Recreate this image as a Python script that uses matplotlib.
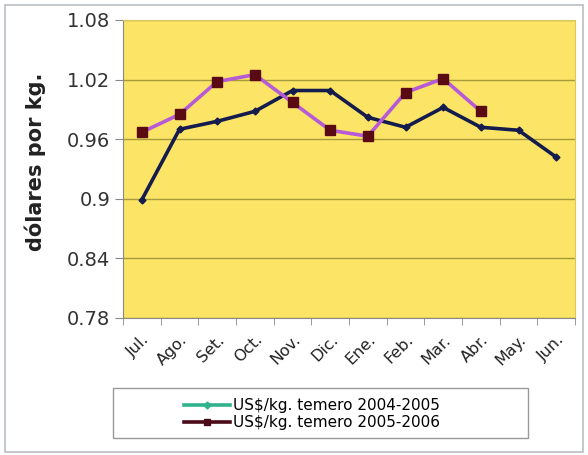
import matplotlib
matplotlib.use("Agg")
import matplotlib.pyplot as plt
from matplotlib.lines import Line2D
from matplotlib.patches import Rectangle
from matplotlib.transforms import ScaledTranslation

plt.rcParams['font.family'] = ['DejaVu Sans']

months = ["Jul.", "Ago.", "Set.", "Oct.", "Nov.", "Dic.", "Ene.", "Feb.",
          "Mar.", "Abr.", "May.", "Jun."]
precio_2004_2005 = [0.899, 0.970, 0.978, 0.988, 1.009, 1.009, 0.982, 0.972,
                    0.992, 0.972, 0.969, 0.942]
precio_2005_2006 = [0.967, 0.985, 1.018, 1.025, 0.997, 0.969, 0.963, 1.007,
                    1.021, 0.988]
y_ticks = [0.78, 0.84, 0.9, 0.96, 1.02, 1.08]
y_tick_labels = ["0.78", "0.84", "0.9", "0.96", "1.02", "1.08"]
series_labels = ["US$/kg. temero 2004-2005", "US$/kg. temero 2005-2006"]

W, H = 588, 455
fig = plt.figure(figsize=(W / 100, H / 100), dpi=100)
fig.patch.set_facecolor("white")
fig.patches.append(Rectangle((0.008, 0.006), 0.984, 0.984, transform=fig.transFigure,
                             fill=False, edgecolor="#b9bfc4", linewidth=1.2))

ax = fig.add_axes([123 / W, 1 - 318 / H, 452 / W, 298 / H])
ax.set_facecolor("#fce566")

x1 = list(range(len(precio_2004_2005)))
x2 = list(range(len(precio_2005_2006)))

ax.plot(x1, precio_2004_2005, color="#141c4e", linewidth=2.6, marker="D",
        markersize=3.5, markerfacecolor="#141c4e", markeredgecolor="#141c4e", zorder=3)
ax.plot(x2, precio_2005_2006, color="#b75ad8", linewidth=2.6, marker="s",
        markersize=7.5, markerfacecolor="#5a0a12", markeredgecolor="#5a0a12", zorder=4)

ax.set_xlim(-0.5, len(months) - 0.5)
ax.set_ylim(0.78, 1.08)
ax.set_yticks(y_ticks)
ax.set_yticklabels(y_tick_labels, fontsize=14, color="#333333")
ax.yaxis.grid(True, color="#a89a3c", linewidth=1.0)
ax.set_axisbelow(True)

ax.set_xticks(x1)
ax.set_xticklabels(months, rotation=45, ha="right", rotation_mode="anchor",
                   fontsize=11.5, color="#222222")
shift = ScaledTranslation(-5 / 72, 0, fig.dpi_scale_trans)
for lbl in ax.get_xticklabels():
    lbl.set_transform(lbl.get_transform() + shift)
ax.set_xticks([i - 0.5 for i in range(len(months) + 1)], minor=True)
ax.tick_params(axis="x", which="major", length=0, pad=10)
ax.tick_params(axis="x", which="minor", length=5, color="#888888")
ax.tick_params(axis="y", length=6, color="#888888", pad=3)

for side in ["top", "right"]:
    ax.spines[side].set_color("#d8c860")
ax.spines["left"].set_color("#888888")
ax.spines["bottom"].set_color("#888888")

fig.text(35 / W, 1 - 162 / H, "dólares por kg.", rotation=90, ha="center",
         va="center", fontsize=15, fontweight="bold", color="#222222")

# legend box
fig.patches.append(Rectangle((113 / W, 1 - 438 / H), 415 / W, 50 / H,
                             transform=fig.transFigure, fill=False,
                             edgecolor="#999999", linewidth=1.0))
handles = [
    Line2D([0], [0], color="#2fb38c", linewidth=2.6, marker="D", markersize=3.5),
    Line2D([0], [0], color="#4a0a18", linewidth=2.6, marker="s", markersize=5),
]
fig.legend(handles, series_labels, loc="center", bbox_to_anchor=(312 / W, 1 - 414 / H),
           frameon=False, fontsize=11, handlelength=3.0, handletextpad=0.2,
           labelspacing=0.15, borderaxespad=0, borderpad=0)

fig.savefig("out.png", dpi=100, facecolor="white")
